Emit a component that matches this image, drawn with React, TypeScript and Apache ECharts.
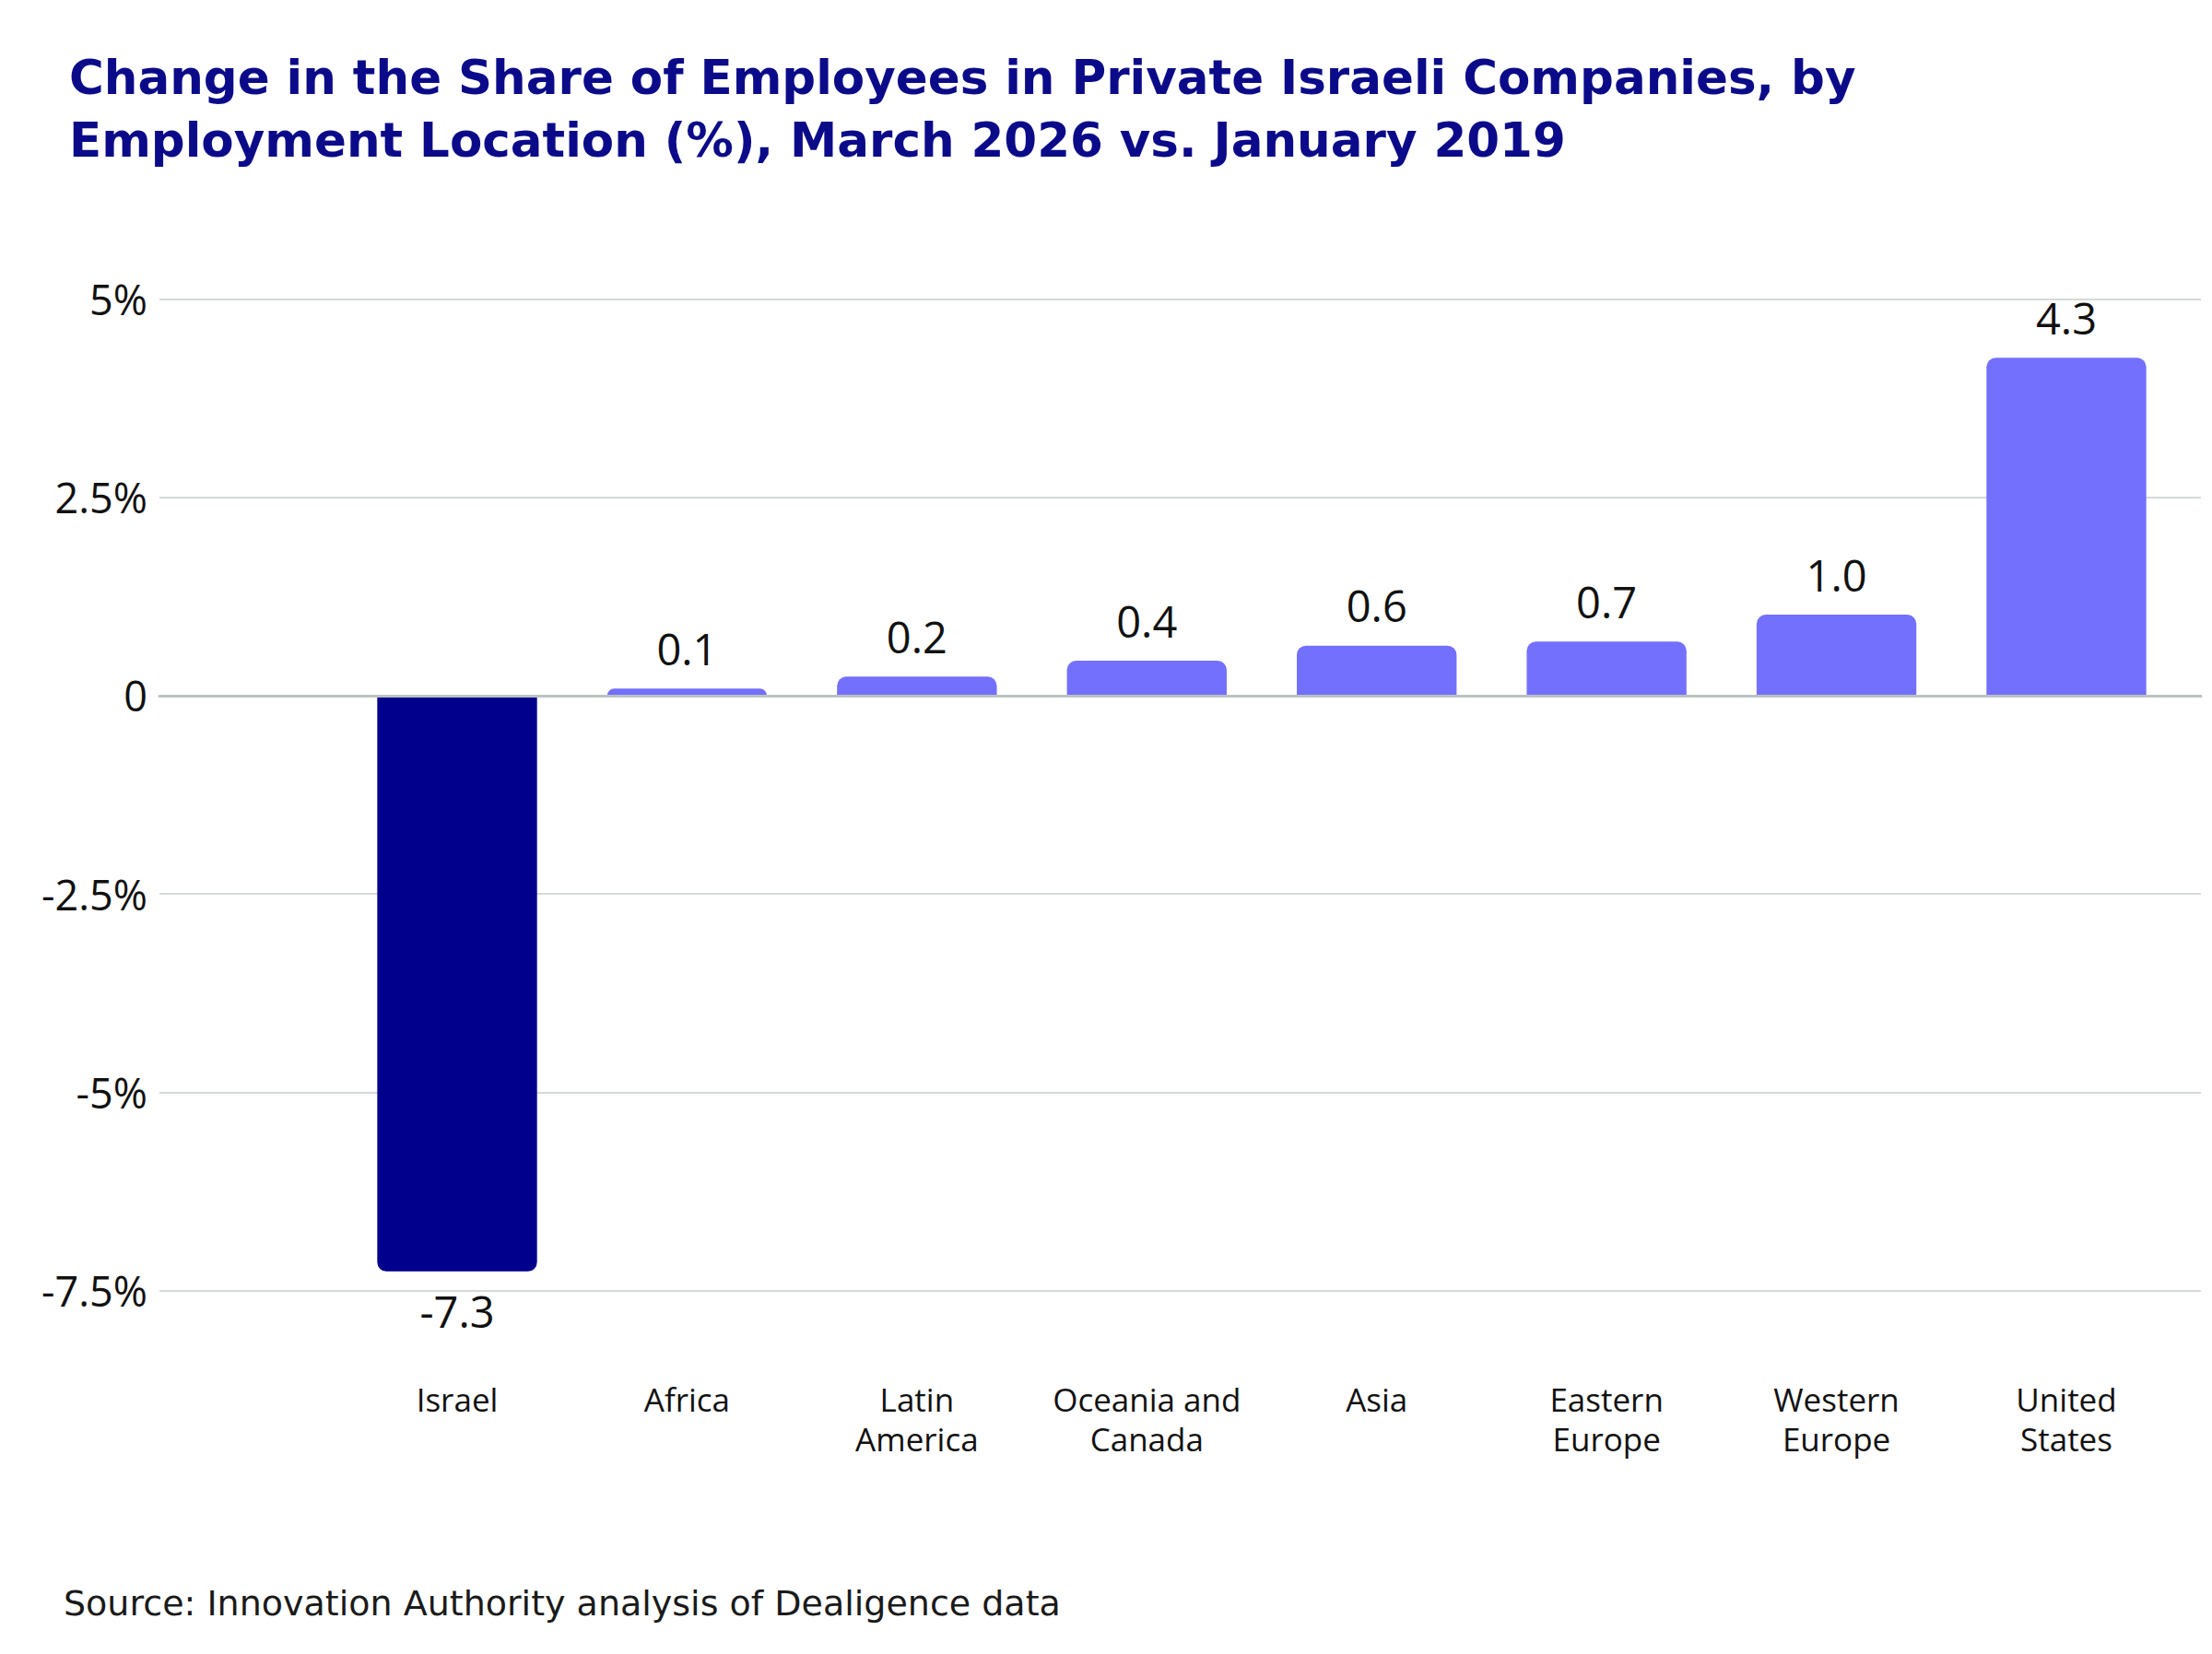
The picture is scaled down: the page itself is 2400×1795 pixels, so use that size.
import React, { useEffect, useRef } from "react";
import * as echarts from "echarts";

const titleText = "Change in the Share of Employees in Private Israeli Companies, by\nEmployment Location (%), March 2026 vs. January 2019";
const sourceText = "Source: Innovation Authority analysis of Dealigence data";

const categories = [
  "Israel",
  "Africa",
  "Latin\nAmerica",
  "Oceania and\nCanada",
  "Asia",
  "Eastern\nEurope",
  "Western\nEurope",
  "United\nStates",
];
const values = [-7.26, 0.09, 0.24, 0.44, 0.63, 0.68, 1.02, 4.26];

const yMin = -7.5;
const yMax = 5;
const yInterval = 2.5;

const NAVY = "#00008c";
const LILAC = "#7370fd";
const TITLE_COLOR = "#0b0b8a";
const FONT = "'Open Sans', 'Noto Sans', sans-serif";
const WIDE = "'DejaVu Sans', 'Open Sans', sans-serif";

export default function App() {
  const ref = useRef<HTMLDivElement>(null);

  useEffect(() => {
    document.body.style.margin = "0";
    const chart = echarts.init(ref.current!, null, { renderer: "svg" });

    const data = values.map((v) => ({
      value: v,
      itemStyle: {
        color: v < 0 ? NAVY : LILAC,
        borderRadius: v < 0 ? [0, 0, 10, 10] : [10, 10, 0, 0],
      },
      label: { position: v < 0 ? "bottom" : "top" },
    }));

    chart.setOption({
      animation: false,
      backgroundColor: "#ffffff",
      title: [
        {
          text: titleText,
          left: 70,
          top: 45,
          textStyle: {
            fontFamily: WIDE,
            fontWeight: "bold",
            fontSize: 51.5,
            lineHeight: 68,
            color: TITLE_COLOR,
          },
        },
        {
          text: sourceText,
          left: 64,
          top: 1716,
          textStyle: {
            fontFamily: WIDE,
            fontWeight: "normal",
            fontSize: 38,
            color: "#1a1a1a",
          },
        },
      ],
      grid: [
        { left: 173, right: 12, top: 324.5, bottom: 394.5 },
        { left: 371.3, right: 33.3, top: 324.5, bottom: 394.5 },
      ],
      xAxis: [
        {
          type: "value",
          gridIndex: 0,
          z: 5,
          axisLine: { show: true, onZero: true, lineStyle: { color: "#bcc2c2", width: 3 } },
          axisTick: { show: false },
          axisLabel: { show: false },
          splitLine: { show: false },
        },
        {
          type: "category",
          gridIndex: 1,
          data: categories,
          position: "bottom",
          axisLine: { show: false, onZero: false },
          axisTick: { show: false },
          axisLabel: {
            margin: 96,
            fontFamily: FONT,
            fontSize: 35,
            lineHeight: 43,
            color: "#111111",
            interval: 0,
          },
          splitLine: { show: false },
        },
      ],
      yAxis: [
        {
          type: "value",
          gridIndex: 0,
          min: yMin,
          max: yMax,
          interval: yInterval,
          axisLine: { show: false },
          axisTick: { show: false },
          axisLabel: {
            margin: 13,
            fontFamily: FONT,
            fontSize: 45,
            color: "#111111",
            formatter: (v: number) => (v === 0 ? "0" : `${v}%`),
          },
          splitLine: { show: true, lineStyle: { color: "#c9cdcd", width: 1.5 } },
        },
        {
          type: "value",
          gridIndex: 1,
          min: yMin,
          max: yMax,
          interval: yInterval,
          show: false,
          splitLine: { show: false },
        },
      ],
      series: [
        {
          type: "bar",
          xAxisIndex: 1,
          yAxisIndex: 1,
          data,
          barWidth: "69.5%",
          label: {
            show: true,
            distance: 20,
            fontFamily: FONT,
            fontSize: 47,
            color: "#111111",
            formatter: (p: any) => Number(p.value).toFixed(1),
          },
        },
      ],
    });

    return () => chart.dispose();
  }, []);

  return <div ref={ref} style={{ width: 2400, height: 1795 }} />;
}
